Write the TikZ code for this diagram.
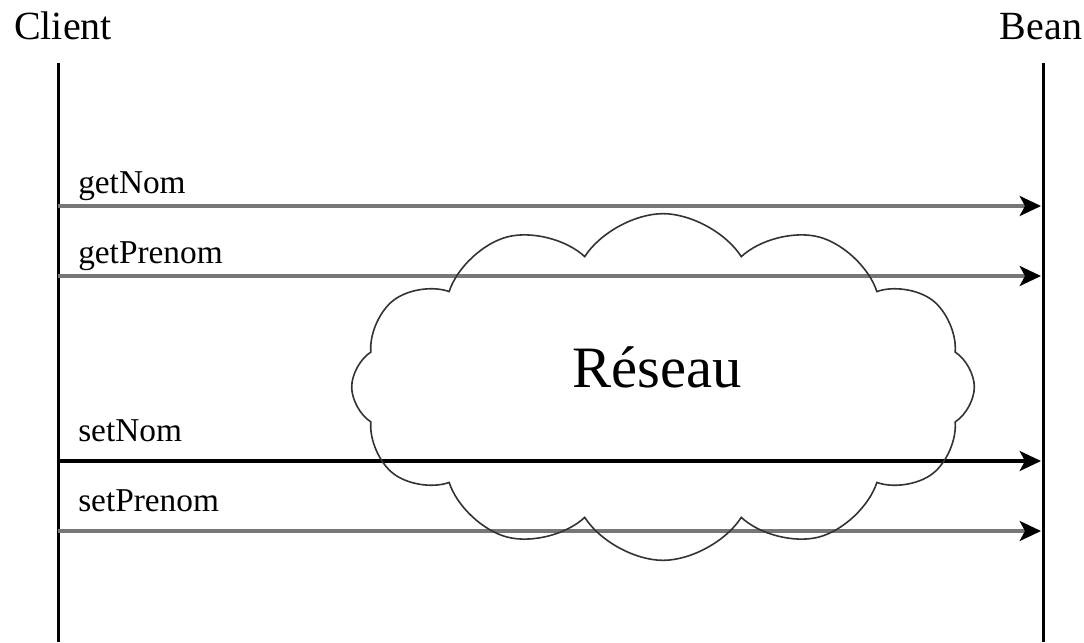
\documentclass[tikz,border=0pt]{standalone}
\usepackage{fontspec}
\setmainfont{Liberation Serif}
\usetikzlibrary{shapes.symbols,arrows.meta}
\definecolor{msggray}{HTML}{777777}

\begin{document}
\begin{tikzpicture}[x=0.75pt,y=-0.75pt,
  actor/.style={font=\fontsize{30}{36}\selectfont,inner sep=0pt,anchor=base},
  lbl/.style={font=\fontsize{25}{30}\selectfont,inner sep=0pt,anchor=base west},
  life/.style={line width=2.25pt},
  msg/.style={draw=msggray,line width=2.6pt,-{Stealth[length=16pt,width=15pt,inset=4pt,color=black]}}]

\useasboundingbox (0,0) rectangle (1084,642);

\node[actor] (client) at (63,40) {Client};
\node[actor] (bean) at (1041,40) {Bean};

\coordinate (ctop) at (58,63);
\coordinate (cbot) at (58,642);
\coordinate (btop) at (1043,63);
\coordinate (bbot) at (1043,642);
\draw[life] (ctop) -- (cbot);
\draw[life] (btop) -- (bbot);

\coordinate (c1) at (58,206);  \coordinate (b1) at (1041,206);
\coordinate (c2) at (58,276);  \coordinate (b2) at (1041,276);
\coordinate (c3) at (58,461);  \coordinate (b3) at (1041,461);
\coordinate (c4) at (58,531);  \coordinate (b4) at (1041,531);

\draw[msg] (c1) -- (b1);
\draw[msg] (c2) -- (b2);
\draw[msg,draw=black] (c3) -- (b3);
\draw[msg] (c4) -- (b4);

\node[lbl] (getnom) at (78,193) {getNom};
\node[lbl] (getprenom) at (78,263) {getPrenom};
\node[lbl] (setnom) at (78,441) {setNom};
\node[lbl] (setprenom) at (78,511) {setPrenom};

% le reseau
\node[cloud,draw=black!80,line width=1.2pt,cloud puffs=12,cloud puff arc=115,cloud ignores aspect,
  minimum width=467pt,minimum height=260pt,inner sep=0pt] (net) at (663,387) {};
\node[font=\fontsize{44}{52}\selectfont,inner sep=0pt,anchor=base] (reseau) at (657,387) {Réseau};
\end{tikzpicture}
\end{document}
